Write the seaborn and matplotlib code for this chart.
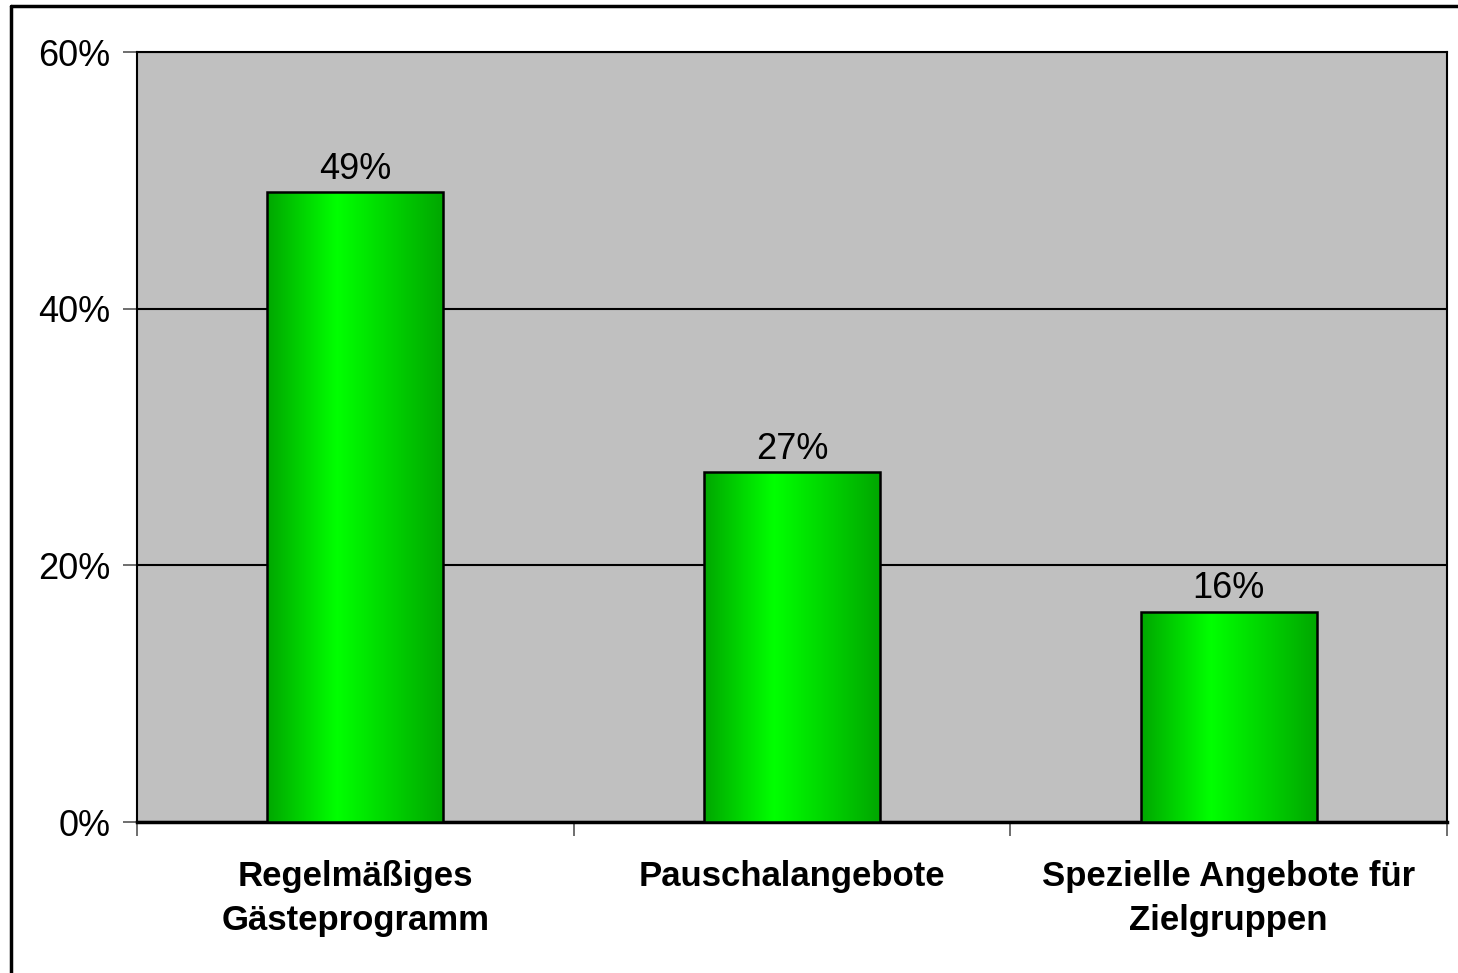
import numpy as np
import pandas as pd
import matplotlib
matplotlib.use("Agg")
import matplotlib.pyplot as plt
from matplotlib.lines import Line2D
import seaborn as sns

# data
categories = ["Regelmäßiges\nGästeprogramm", "Pauschalangebote", "Spezielle Angebote für\nZielgruppen"]
shares = [0.491, 0.273, 0.164]
y_ticks = [0, 0.2, 0.4, 0.6]

df = pd.DataFrame({"kategorie": categories, "anteil": shares})

sns.set_style("white")
plt.rcParams["font.family"] = ["Liberation Sans", "DejaVu Sans"]
plt.rcParams["text.color"] = "black"
plt.rcParams["xtick.color"] = "black"
plt.rcParams["ytick.color"] = "black"

fig = plt.figure(figsize=(14.58, 9.73), dpi=100)
ax = fig.add_axes([137 / 1458, 1 - 822 / 973, 1310 / 1458, 770 / 973])
ax.set_facecolor("#c0c0c0")

sns.barplot(data=df, x="kategorie", y="anteil", ax=ax, width=0.403,
            color="#00e000", edgecolor="black", linewidth=1.8, zorder=3)

# horizontal green gradient inside each bar
grad = np.concatenate([np.linspace(0.0, 1.0, 40), np.linspace(1.0, 0.0, 60)])
cmap = matplotlib.colors.LinearSegmentedColormap.from_list("g", ["#00a800", "#00ff00"])
for p in ax.patches:
    x0, y0 = p.get_x(), p.get_y()
    w, h = p.get_width(), p.get_height()
    im = ax.imshow(grad[np.newaxis, :], cmap=cmap, aspect="auto",
                   extent=[x0, x0 + w, y0, y0 + h], zorder=3.5)
    im.set_clip_path(p)
    p.set_facecolor("none")
    p.set_zorder(4)

for p, v in zip(ax.patches, shares):
    ax.text(p.get_x() + p.get_width() / 2, v + 0.004, f"{round(v * 100):.0f}%",
            ha="center", va="bottom", fontsize=26, color="black", zorder=5)

ax.set_xlim(-0.5, 2.5)
ax.set_ylim(0, 0.6)
ax.set_yticks(y_ticks)
ax.set_yticklabels([f"{int(t * 100)}%" for t in y_ticks], fontsize=26, color="black")
ax.yaxis.grid(True, color="black", linewidth=1.5, zorder=1)
ax.set_axisbelow(True)
ax.tick_params(axis="y", which="both", left=True, length=10, width=1.2,
               color="#555555", pad=9)

ax.set_xticks([0, 1, 2])
ax.set_xticklabels(categories, fontsize=25, fontweight="bold", linespacing=1.42,
                   color="black")
ax.tick_params(axis="x", which="major", bottom=False, pad=24)
ax.set_xticks([-0.5, 0.5, 1.5, 2.5], minor=True)
ax.tick_params(axis="x", which="minor", bottom=True, length=10, width=1.2, color="#555555")
ax.set_xlabel("")
ax.set_ylabel("")

for side in ["left", "right", "top"]:
    ax.spines[side].set_visible(True)
    ax.spines[side].set_color("black")
    ax.spines[side].set_linewidth(1.5)
ax.spines["bottom"].set_color("black")
ax.spines["bottom"].set_linewidth(2.5)
ax.spines["bottom"].set_visible(True)

# cropped frame of the original picture: only top and left edges show
fig.add_artist(Line2D([10.5 / 1458, 1], [1 - 6 / 973, 1 - 6 / 973], color="black",
                      linewidth=2.5, transform=fig.transFigure))
fig.add_artist(Line2D([10.5 / 1458, 10.5 / 1458], [0, 1 - 6 / 973], color="black",
                      linewidth=2.5, transform=fig.transFigure))

fig.savefig("out.png", dpi=100)
